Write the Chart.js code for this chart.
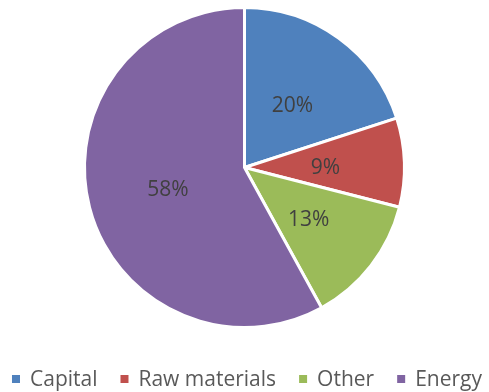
<!DOCTYPE html>
<html><head><meta charset="utf-8">
<script src="https://cdn.jsdelivr.net/npm/chart.js@4/dist/chart.umd.min.js"></script>
<style>html,body{margin:0;padding:0;background:#fff}#wrap{width:489px;height:392px}</style>
</head><body><div id="wrap"><canvas id="c" width="489" height="392"></canvas></div>
<script>
const categories = ["Capital", "Raw materials", "Other", "Energy"];
const shares = [20, 9, 13, 58];
const colors = ["#4F81BD", "#C0504D", "#9BBB59", "#8064A2"];

const labelPlugin = {
  id: 'sliceLabels',
  afterDatasetsDraw(chart) {
    const ctx = chart.ctx;
    const meta = chart.getDatasetMeta(0);
    ctx.save();
    ctx.font = '21px "Open Sans", sans-serif';
    ctx.fillStyle = '#404040';
    ctx.textAlign = 'center';
    ctx.textBaseline = 'middle';
    meta.data.forEach((arc, i) => {
      const p = arc.tooltipPosition();
      ctx.fillText(shares[i] + '%', p.x + 1, p.y + 3);
    });
    ctx.restore();
  }
};

const legendPlugin = {
  id: 'bottomLegend',
  afterDraw(chart) {
    const ctx = chart.ctx;
    ctx.save();
    ctx.font = '21px "Open Sans", sans-serif';
    ctx.textBaseline = 'middle';
    ctx.textAlign = 'left';
    const box = 8, boxGap = 10, gap = 23;
    const widths = chart.data.labels.map(l => ctx.measureText(l).width);
    let total = widths.reduce((a, w) => a + box + boxGap + w, 0) + gap * (widths.length - 1);
    let x = 247 - total / 2;
    const y = 379;
    chart.data.labels.forEach((l, i) => {
      ctx.fillStyle = chart.data.datasets[0].backgroundColor[i];
      ctx.fillRect(x, y - box / 2, box, box);
      ctx.fillStyle = '#595959';
      ctx.fillText(l, x + box + boxGap, y + 1);
      x += box + boxGap + widths[i] + gap;
    });
    ctx.restore();
  }
};

new Chart(document.getElementById('c'), {
  type: 'pie',
  data: {
    labels: categories,
    datasets: [{ data: shares, backgroundColor: colors, borderColor: '#ffffff', borderWidth: 3 }]
  },
  options: {
    responsive: false,
    animation: false,
    layout: { padding: { top: 6, bottom: 63 } },
    plugins: {
      tooltip: { enabled: false },
      legend: { display: false }
    }
  },
  plugins: [labelPlugin, legendPlugin]
});
</script></body></html>
